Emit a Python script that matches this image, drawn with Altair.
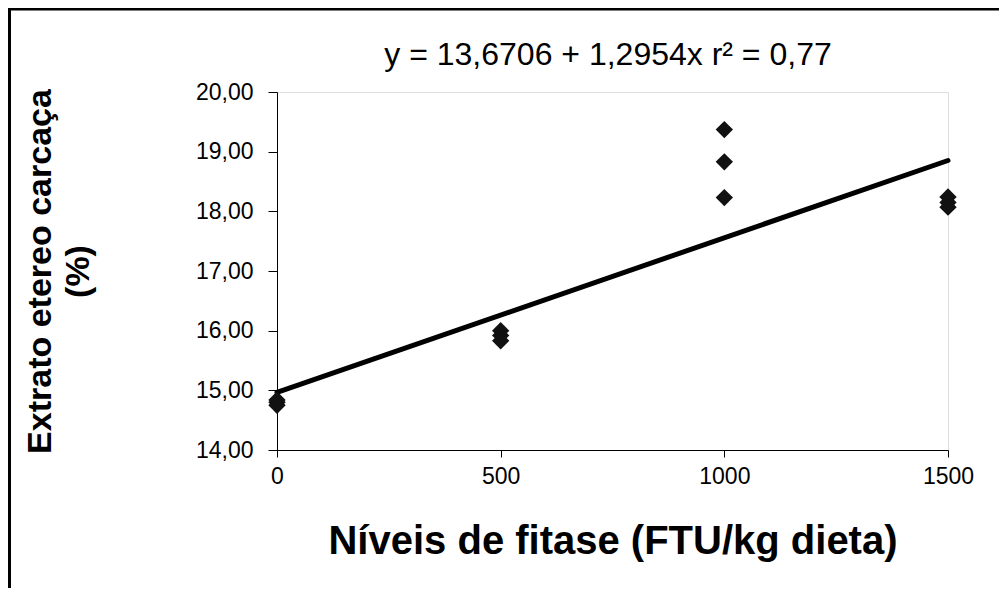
import altair as alt
import pandas as pd

# observed points
fitase = [0, 0, 0, 500, 500, 500, 1000, 1000, 1000, 1500, 1500, 1500]
extrato = [14.84, 14.80, 14.75, 16.00, 15.92, 15.83, 19.37, 18.83, 18.23, 18.24, 18.15, 18.07]

# regression line end points (y = 13,6706 + 1,2954x, x = level index)
line_x = [0, 1500]
line_y = [14.966, 18.852]

x_ticks = [0, 500, 1000, 1500]
y_ticks = [14, 15, 16, 17, 18, 19, 20]

equation = "y = 13,6706 + 1,2954x r² = 0,77"
x_title = "Níveis de fitase (FTU/kg dieta)"
y_title = ["Extrato etereo carcaça", "(%)"]

FONT = "Liberation Sans"

pts = pd.DataFrame({"x": fitase, "y": extrato})
ln = pd.DataFrame({"x": line_x, "y": line_y})
eq = pd.DataFrame({"t": [equation]})

W, H = 671, 358
PL, PT = 269, 84

xscale = alt.Scale(domain=[0, 1500], nice=False, zero=False)
yscale = alt.Scale(domain=[14, 20], nice=False, zero=False)

xaxis = alt.Axis(
    values=x_ticks, grid=False, title=x_title, labelFontSize=23, labelFont=FONT,
    labelColor="black", tickColor="black", domainColor="black", tickSize=7,
    labelPadding=8, format="d", titleFont=FONT, titleFontSize=40, titleFontWeight="bold",
    titleColor="black", titleY=91, titleBaseline="middle", labelFlush=False,
)
yaxis = alt.Axis(
    values=y_ticks, grid=False, title=y_title, labelFontSize=23, labelFont=FONT,
    labelColor="black", tickColor="black", domainColor="black", tickSize=9,
    labelPadding=15, labelExpr="replace(format(datum.value, '.2f'), '.', ',')",
    titleFont=FONT, titleFontSize=34, titleFontWeight="bold", titleColor="black",
    titleX=-220, titleY=H / 2, titleAlign="center", titleBaseline="bottom",
    titleAngle=270, titleLineHeight=38, labelFlush=False,
)

points = alt.Chart(pts).mark_point(
    shape="diamond", filled=True, size=300, color="#111111", opacity=1
).encode(
    x=alt.X("x:Q", scale=xscale, axis=xaxis),
    y=alt.Y("y:Q", scale=yscale, axis=yaxis),
)

line = alt.Chart(ln).mark_line(color="black", strokeWidth=5, strokeCap="round").encode(
    x=alt.X("x:Q", scale=xscale),
    y=alt.Y("y:Q", scale=yscale),
)

eq_text = alt.Chart(eq).mark_text(
    font=FONT, fontSize=32, color="black", align="center", baseline="middle"
).encode(text="t:N", x=alt.value(331), y=alt.value(-37))

frame_left = alt.Chart(pd.DataFrame({"a": [0]})).mark_rule(color="black", strokeWidth=3).encode(
    x=alt.value(-267.5), y=alt.value(-84), y2=alt.value(600)
)
frame_top = alt.Chart(pd.DataFrame({"a": [0]})).mark_rule(color="black", strokeWidth=3).encode(
    x=alt.value(-269), x2=alt.value(800), y=alt.value(-83)
)

chart = alt.layer(frame_left, frame_top, line, points, eq_text).properties(
    width=W, height=H,
    autosize=alt.AutoSizeParams(type="none"),
    padding={"left": PL, "top": PT, "right": 51, "bottom": 138},
).configure_view(stroke=None).configure(background="white")

chart.save("out.html", embed_options={"renderer": "svg", "actions": False})
